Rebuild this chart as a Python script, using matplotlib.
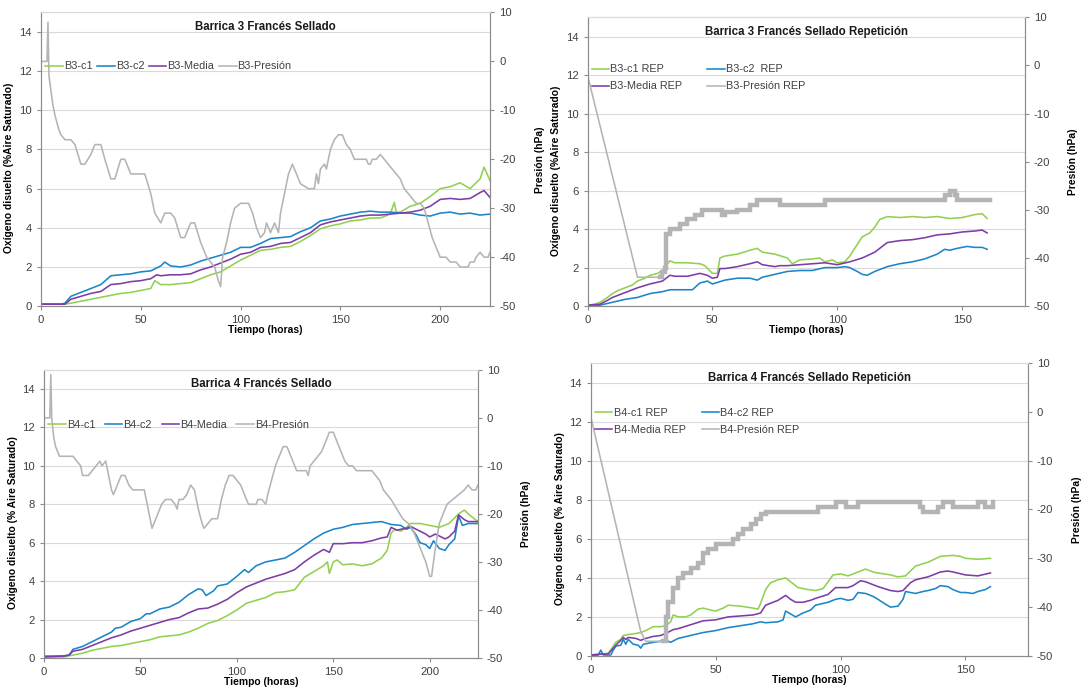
import numpy as np
import matplotlib
matplotlib.use("Agg")
import matplotlib.pyplot as plt

plt.rcParams['font.family'] = ['Liberation Sans', 'DejaVu Sans']
plt.rcParams['axes.unicode_minus'] = False

# ---- datos: (tiempo h, valor) ----
# Barrica 3 Francés Sellado
B3_C1 = [(0, 0.1), (12, 0.1), (15, 0.15), (20, 0.25), (25, 0.35), (30, 0.45), (35, 0.55), (40, 0.65),
         (45, 0.7), (50, 0.8), (55, 0.9), (57, 1.3), (60, 1.1), (65, 1.1), (70, 1.15), (75, 1.2),
         (80, 1.4), (85, 1.6), (90, 1.75), (95, 2.05), (100, 2.35), (105, 2.6), (110, 2.85), (115, 2.9),
         (120, 3.0), (125, 3.05), (130, 3.3), (135, 3.6), (140, 3.95), (145, 4.1), (150, 4.2),
         (155, 4.35), (160, 4.4), (165, 4.5), (170, 4.5), (175, 4.7), (177, 5.3), (178, 4.8),
         (180, 4.8), (185, 5.1), (190, 5.25), (195, 5.6), (200, 6.0), (205, 6.1), (210, 6.3),
         (215, 6.0), (220, 6.5), (222, 7.1), (225, 6.4)]
B3_C2 = [(0, 0.1), (10, 0.1), (12, 0.15), (15, 0.5), (20, 0.7), (25, 0.9), (30, 1.1), (35, 1.55),
         (40, 1.6), (45, 1.65), (50, 1.75), (55, 1.8), (60, 2.05), (62, 2.25), (65, 2.05), (70, 2.0),
         (75, 2.1), (80, 2.3), (85, 2.45), (90, 2.6), (95, 2.75), (100, 3.0), (105, 3.0), (110, 3.2),
         (115, 3.45), (120, 3.5), (125, 3.55), (130, 3.8), (135, 4.0), (140, 4.35), (145, 4.45),
         (150, 4.6), (155, 4.7), (160, 4.8), (165, 4.85), (170, 4.8), (175, 4.8), (180, 4.75),
         (185, 4.75), (190, 4.65), (195, 4.6), (200, 4.75), (205, 4.8), (210, 4.7), (215, 4.75),
         (220, 4.65), (225, 4.7)]
B3_MEDIA = [(0, 0.1), (12, 0.1), (15, 0.35), (20, 0.5), (25, 0.65), (30, 0.75), (35, 1.1), (40, 1.15),
            (45, 1.25), (50, 1.3), (55, 1.4), (58, 1.6), (60, 1.55), (65, 1.6), (70, 1.6), (75, 1.65),
            (80, 1.85), (85, 2.0), (90, 2.2), (95, 2.4), (100, 2.65), (105, 2.75), (110, 3.0),
            (115, 3.05), (120, 3.2), (125, 3.25), (130, 3.5), (135, 3.75), (140, 4.15), (145, 4.3),
            (150, 4.4), (155, 4.5), (160, 4.6), (165, 4.65), (170, 4.65), (175, 4.7), (180, 4.75),
            (185, 4.8), (190, 4.9), (195, 5.1), (200, 5.45), (205, 5.5), (210, 5.45), (215, 5.5),
            (220, 5.8), (222, 5.9), (225, 5.55)]
B3_PRES = [(0, 0), (3, 0), (3.5, 8), (4, -3), (5, -6), (6, -9), (7, -11), (8, -12.5), (9, -14),
           (10, -15), (12, -16), (15, -16), (17, -17), (20, -21), (22, -21), (25, -19), (27, -17),
           (30, -17), (32, -20), (35, -24), (37, -24), (40, -20), (42, -20), (45, -23), (52, -23),
           (55, -27), (57, -31), (60, -33), (62, -31), (65, -31), (67, -32), (70, -36), (72, -36),
           (75, -33), (77, -33), (80, -37), (83, -40), (85, -41), (87, -42), (89, -45), (90, -46),
           (91, -40), (93, -37), (95, -33), (97, -30), (100, -29), (104, -29), (106, -31), (108, -34),
           (110, -36), (112, -35), (113, -33), (115, -35), (117, -33), (119, -35), (120, -31),
           (122, -27), (124, -23), (126, -21), (128, -23), (130, -25), (134, -26), (137, -26),
           (138, -23), (139, -25), (140, -22), (142, -21), (143, -22), (145, -18), (147, -16),
           (149, -15), (151, -15), (153, -17), (155, -18), (157, -20), (163, -20), (164, -21),
           (165, -21), (166, -20), (168, -20), (170, -19), (172, -20), (174, -21), (176, -22),
           (178, -23), (180, -24), (182, -26), (184, -27), (186, -28), (188, -29), (190, -29),
           (192, -30), (194, -33), (196, -36), (198, -38), (200, -40), (203, -40), (205, -41),
           (208, -41), (210, -42), (214, -42), (215, -41), (217, -41), (218, -40), (220, -39),
           (222, -40), (224, -40), (225, -39)]

# Barrica 3 Francés Sellado Repetición
B3R_C1 = [(0, 0.05), (3, 0.1), (5, 0.2), (8, 0.45), (10, 0.65), (12, 0.8), (15, 0.95), (18, 1.1),
          (20, 1.3), (23, 1.45), (25, 1.6), (28, 1.7), (30, 1.85), (32, 2.2), (33, 2.35), (35, 2.25),
          (40, 2.25), (45, 2.2), (47, 2.1), (50, 1.7), (52, 1.7), (53, 2.5), (55, 2.6), (60, 2.7),
          (65, 2.9), (68, 3.0), (70, 2.8), (75, 2.7), (80, 2.5), (82, 2.2), (85, 2.4), (90, 2.45),
          (93, 2.5), (95, 2.3), (98, 2.4), (100, 2.25), (103, 2.3), (105, 2.6), (108, 3.2),
          (110, 3.6), (113, 3.8), (115, 4.1), (117, 4.5), (120, 4.65), (125, 4.6), (130, 4.65),
          (135, 4.6), (140, 4.65), (145, 4.55), (150, 4.6), (155, 4.75), (158, 4.8), (160, 4.55)]
B3R_C2 = [(0, 0.0), (5, 0.05), (10, 0.2), (15, 0.35), (20, 0.45), (25, 0.65), (30, 0.75), (33, 0.85),
          (42, 0.85), (45, 1.2), (48, 1.3), (50, 1.15), (55, 1.35), (60, 1.45), (65, 1.45), (68, 1.35),
          (70, 1.5), (75, 1.65), (80, 1.8), (85, 1.85), (90, 1.85), (95, 2.0), (100, 2.0), (103, 2.05),
          (105, 2.0), (108, 1.8), (110, 1.65), (112, 1.6), (115, 1.8), (120, 2.05), (125, 2.2),
          (130, 2.3), (135, 2.45), (140, 2.7), (143, 2.95), (145, 2.9), (148, 3.0), (150, 3.05),
          (152, 3.1), (155, 3.05), (158, 3.05), (160, 2.95)]
B3R_MEDIA = [(0, 0.05), (5, 0.1), (8, 0.3), (10, 0.45), (15, 0.7), (20, 0.95), (25, 1.15), (30, 1.3),
             (33, 1.6), (35, 1.55), (40, 1.55), (45, 1.7), (48, 1.6), (50, 1.45), (52, 1.5), (53, 1.95),
             (55, 1.95), (60, 2.05), (65, 2.2), (68, 2.3), (70, 2.15), (75, 2.05), (77, 2.1), (80, 2.1),
             (85, 2.15), (90, 2.2), (95, 2.25), (100, 2.15), (105, 2.3), (110, 2.5), (115, 2.8),
             (118, 3.1), (120, 3.3), (125, 3.4), (130, 3.45), (135, 3.55), (140, 3.7), (145, 3.75),
             (150, 3.85), (155, 3.9), (158, 3.95), (160, 3.8)]
B3R_PRES = [(0, -2), (20, -44), (29, -44), (30, -43), (31, -42), (31.5, -35), (33, -34), (37, -33),
            (40, -32), (43, -31), (46, -30), (52, -30), (54, -31), (55, -30.5), (60, -30), (65, -29),
            (68, -28), (75, -28), (77, -29), (92, -29), (95, -28), (142, -28), (143, -27), (145, -26),
            (147, -27), (148, -28), (161, -28)]

# Barrica 4 Francés Sellado
B4_C1 = [(0, 0.05), (10, 0.05), (15, 0.15), (20, 0.25), (25, 0.4), (30, 0.5), (35, 0.6), (40, 0.65),
         (45, 0.75), (50, 0.85), (55, 0.95), (60, 1.1), (65, 1.15), (70, 1.2), (75, 1.35), (80, 1.55),
         (85, 1.8), (90, 1.95), (95, 2.2), (100, 2.5), (105, 2.85), (110, 3.0), (115, 3.15), (120, 3.4),
         (125, 3.45), (130, 3.55), (135, 4.2), (140, 4.5), (145, 4.8), (147, 5.0), (148, 4.4),
         (150, 5.0), (152, 5.1), (155, 4.85), (160, 4.9), (165, 4.8), (170, 4.9), (175, 5.2),
         (178, 5.6), (180, 6.5), (182, 6.7), (185, 6.6), (188, 6.8), (190, 7.0), (195, 7.0),
         (200, 6.9), (205, 6.8), (210, 7.0), (215, 7.5), (218, 7.7), (220, 7.5), (225, 7.1)]
B4_C2 = [(0, 0.1), (10, 0.1), (13, 0.15), (15, 0.45), (20, 0.6), (25, 0.85), (30, 1.1), (35, 1.35),
         (37, 1.55), (40, 1.6), (45, 1.9), (50, 2.05), (53, 2.3), (55, 2.3), (60, 2.55), (65, 2.65),
         (70, 2.9), (75, 3.3), (80, 3.6), (82, 3.55), (84, 3.25), (88, 3.5), (90, 3.75), (95, 3.85),
         (100, 4.25), (104, 4.6), (106, 4.45), (110, 4.8), (115, 5.0), (120, 5.1), (125, 5.2),
         (130, 5.5), (135, 5.85), (140, 6.2), (145, 6.5), (150, 6.7), (155, 6.8), (160, 6.95),
         (165, 7.0), (170, 7.05), (175, 7.1), (180, 6.95), (185, 6.9), (188, 6.7), (190, 6.8),
         (193, 6.4), (195, 6.0), (198, 5.9), (200, 5.7), (202, 6.1), (205, 5.7), (208, 5.6),
         (210, 5.9), (213, 6.2), (215, 7.4), (217, 6.9), (220, 7.0), (225, 7.0)]
B4_MEDIA = [(0, 0.05), (10, 0.1), (13, 0.15), (15, 0.35), (20, 0.45), (25, 0.65), (30, 0.85),
            (35, 1.05), (40, 1.2), (45, 1.4), (50, 1.55), (55, 1.7), (60, 1.85), (65, 2.0), (70, 2.1),
            (75, 2.35), (80, 2.55), (85, 2.6), (90, 2.8), (95, 3.05), (100, 3.4), (105, 3.7), (110, 3.9),
            (115, 4.1), (120, 4.25), (125, 4.4), (130, 4.6), (135, 5.0), (140, 5.35), (145, 5.65),
            (148, 5.5), (150, 5.95), (155, 5.95), (160, 6.0), (165, 6.0), (170, 6.1), (175, 6.25),
            (178, 6.3), (180, 6.8), (183, 6.65), (185, 6.7), (188, 6.75), (190, 6.85), (193, 6.7),
            (195, 6.6), (198, 6.45), (200, 6.3), (203, 6.45), (205, 6.35), (208, 6.2), (210, 6.3),
            (213, 6.6), (215, 7.45), (218, 7.2), (220, 7.1), (225, 7.1)]
B4_PRES = [(0, 0), (3, 0), (3.5, 9), (4, 0), (5, -4), (6, -6), (7, -7), (8, -8), (15, -8), (17, -9),
           (19, -10), (20, -12), (23, -12), (25, -11), (27, -10), (29, -9), (30, -10), (32, -9),
           (34, -13), (35, -15), (36, -16), (38, -14), (40, -12), (42, -12), (44, -14), (46, -15),
           (52, -15), (53, -17), (55, -21), (56, -23), (57, -22), (59, -20), (61, -18), (63, -17),
           (66, -17), (68, -18), (69, -19), (70, -17), (72, -17), (74, -16), (76, -14), (78, -15),
           (80, -19), (82, -22), (83, -23), (85, -22), (87, -21), (90, -21), (92, -17), (94, -14),
           (96, -12), (98, -12), (100, -13), (102, -14), (104, -16), (106, -18), (110, -18),
           (111, -17), (113, -17), (115, -18), (116, -16), (118, -13), (120, -10), (122, -8),
           (124, -6), (126, -6), (127, -7), (129, -9), (131, -11), (136, -11), (137, -12), (138, -10),
           (140, -9), (142, -8), (144, -7), (146, -5), (148, -3), (150, -3), (152, -5), (154, -7),
           (156, -9), (158, -10), (160, -10), (162, -11), (170, -11), (172, -12), (174, -13),
           (176, -15), (178, -16), (180, -17), (183, -19), (186, -21), (189, -22), (192, -24),
           (195, -27), (198, -30), (200, -33), (201, -33), (203, -27), (205, -22), (207, -20),
           (209, -18), (212, -17), (215, -16), (218, -15), (220, -14), (222, -15), (224, -15),
           (225, -14)]

# Barrica 4 Francés Sellado Repetición
B4R_C1 = [(0, 0.05), (3, 0.1), (5, 0.1), (7, 0.15), (9, 0.5), (10, 0.7), (12, 0.85), (13, 1.05),
          (15, 1.1), (18, 1.15), (20, 1.2), (22, 1.3), (25, 1.5), (28, 1.5), (30, 1.55), (32, 1.75),
          (33, 2.1), (35, 2.0), (38, 2.0), (40, 2.1), (43, 2.4), (45, 2.45), (48, 2.35), (50, 2.3),
          (53, 2.45), (55, 2.6), (60, 2.55), (65, 2.45), (67, 2.4), (68, 2.7), (70, 3.4), (72, 3.75),
          (75, 3.9), (78, 4.0), (80, 3.8), (83, 3.5), (87, 3.4), (90, 3.35), (93, 3.45), (95, 3.8),
          (97, 4.15), (100, 4.2), (103, 4.1), (105, 4.2), (108, 4.35), (110, 4.45), (113, 4.3),
          (115, 4.25), (120, 4.15), (123, 4.05), (126, 4.1), (128, 4.35), (130, 4.6), (135, 4.8),
          (140, 5.1), (145, 5.15), (148, 5.1), (150, 5.0), (155, 4.95), (160, 5.0)]
B4R_C2 = [(0, 0.0), (3, 0.05), (4, 0.3), (5, 0.05), (8, 0.05), (9, 0.3), (10, 0.5), (12, 0.55),
          (13, 0.85), (14, 0.6), (15, 0.85), (17, 0.6), (19, 0.55), (20, 0.4), (21, 0.6), (25, 0.7),
          (28, 0.75), (30, 0.8), (32, 0.7), (35, 0.9), (40, 1.05), (45, 1.2), (50, 1.3), (55, 1.45),
          (60, 1.55), (65, 1.65), (68, 1.75), (70, 1.7), (75, 1.75), (77, 1.85), (78, 2.3), (80, 2.15),
          (82, 2.0), (85, 2.2), (88, 2.35), (90, 2.6), (95, 2.75), (98, 2.9), (100, 2.95), (103, 2.85),
          (105, 2.9), (107, 3.25), (110, 3.2), (113, 3.05), (115, 2.9), (118, 2.65), (120, 2.5),
          (123, 2.55), (125, 2.9), (126, 3.3), (128, 3.25), (130, 3.2), (133, 3.3), (135, 3.35),
          (138, 3.45), (140, 3.6), (143, 3.55), (145, 3.4), (148, 3.25), (150, 3.25), (153, 3.2),
          (155, 3.3), (158, 3.4), (160, 3.55)]
B4R_MEDIA = [(0, 0.05), (5, 0.1), (7, 0.1), (9, 0.4), (10, 0.55), (12, 0.8), (13, 0.95), (14, 0.85),
             (15, 0.95), (18, 0.9), (20, 0.8), (22, 0.9), (25, 1.0), (28, 1.05), (30, 1.15), (33, 1.35),
             (35, 1.4), (40, 1.6), (45, 1.8), (50, 1.85), (55, 2.0), (60, 2.05), (65, 2.1), (68, 2.2),
             (70, 2.6), (75, 2.85), (78, 3.1), (80, 2.9), (82, 2.75), (85, 2.75), (88, 2.85), (90, 2.95),
             (95, 3.15), (98, 3.5), (103, 3.5), (105, 3.6), (108, 3.85), (110, 3.8), (115, 3.55),
             (120, 3.35), (123, 3.3), (125, 3.35), (128, 3.75), (130, 3.9), (135, 4.05), (140, 4.3),
             (143, 4.35), (145, 4.3), (150, 4.15), (155, 4.1), (160, 4.25)]
B4R_PRES = [(0, -1), (20, -45), (22, -47), (29, -47), (30, -42), (31, -39), (33, -36), (35, -34),
            (37, -33), (40, -32), (43, -31), (45, -29), (47, -28), (50, -27), (55, -27), (57, -26),
            (59, -25), (61, -24), (64, -23), (66, -22), (68, -21), (70, -20.5), (90, -20.5),
            (91, -19.5), (97, -19.5), (98, -18.5), (101, -18.5), (102, -19.5), (106, -19.5),
            (107, -18.5), (130, -18.5), (132, -19.5), (133, -20.5), (138, -20.5), (139, -19.5),
            (141, -18.5), (144, -18.5), (145, -19.5), (154, -19.5), (155, -18.5), (157, -18.5),
            (158, -19.5), (160, -19.5), (161, -18.5)]

GREEN = '#92D050'
BLUE = '#1A86C8'
PURPLE = '#7D3CA6'
GRAY = '#B4B4B4'
GRID = '#DADADA'
AXC = '#8C8C8C'
TXT = '#404040'


def xy(series):
    a = np.array(series, dtype=float)
    return a[:, 0], a[:, 1]


def panel(pos, title, series, labels, xmax, xticks, ylab, ncol, rep, leg_y, colsp):
    ax = fig.add_axes(pos)
    ax2 = ax.twinx()
    hs = []
    for s, c in zip(series[:3], [GREEN, BLUE, PURPLE]):
        t, v = xy(s)
        h, = ax.plot(t, v, color=c, lw=1.15)
        hs.append(h)
    t, v = xy(series[3])
    if rep:
        # bajada fina y luego meseta escalonada que oscila entre dos valores (trazo grueso)
        cut = np.argmax(t >= 29)
        ax2.plot(t[:cut + 1], v[:cut + 1], color=GRAY, lw=1.15)
        ax2.plot(t[cut:], v[cut:], color=GRAY, lw=3.2, drawstyle='steps-post',
                 solid_joinstyle='miter')
        h, = ax2.plot([], [], color=GRAY, lw=1.15)
    else:
        h, = ax2.plot(t, v, color=GRAY, lw=1.15)
    hs.append(h)

    ax.set_xlim(0, xmax)
    ax.set_ylim(0, 15)
    ax2.set_ylim(-50, 10)
    ax.set_xticks(xticks)
    ax.set_yticks(range(0, 15, 2))
    ax2.set_yticks(range(-50, 11, 10))
    for y in range(2, 15, 2):
        ax.axhline(y, color=GRID, lw=0.8, zorder=0)
    for a in (ax, ax2):
        for side in ('left', 'right', 'bottom'):
            a.spines[side].set_color(AXC)
        a.spines['top'].set_color(GRID)
        a.tick_params(colors=AXC, labelcolor=TXT, labelsize=8.1, length=3, width=0.8, direction='out')
    ax.set_xlabel('Tiempo (horas)', fontsize=7.4, fontweight='bold', labelpad=0)
    ax.set_ylabel(ylab, fontsize=7.4, fontweight='bold')
    ax2.set_ylabel('Presión (hPa)', fontsize=7.4, fontweight='bold')
    ax.yaxis.set_label_coords(-0.06, 0.47)
    ax2.yaxis.set_label_coords(1.1, 0.5)
    ax.text(0.5, 0.95, title, transform=ax.transAxes, ha='center', va='center',
            fontsize=8.3, fontweight='bold', color='#1a1a1a')
    order = [0, 2, 1, 3] if ncol == 2 else [0, 1, 2, 3]
    ax2.legend([hs[i] for i in order], [labels[i] for i in order], ncol=ncol, frameon=False,
               loc='center left', bbox_to_anchor=(0.0, leg_y), fontsize=7.8, handlelength=1.6,
               handletextpad=0.1, columnspacing=colsp, labelspacing=0.65, borderaxespad=0,
               labelcolor=TXT)


fig = plt.figure(figsize=(10.9, 6.91), dpi=100)

panel([0.0376, 0.557, 0.412, 0.425], 'Barrica 3 Francés Sellado',
      [B3_C1, B3_C2, B3_MEDIA, B3_PRES], ['B3-c1', 'B3-c2', 'B3-Media', 'B3-Presión'],
      225, [0, 50, 100, 150, 200], 'Oxígeno disuelto (%Aire Saturado)', 4, False, 0.816, 0.45)
panel([0.539, 0.557, 0.401, 0.418], 'Barrica 3 Francés Sellado Repetición',
      [B3R_C1, B3R_C2, B3R_MEDIA, B3R_PRES],
      ['B3-c1 REP', 'B3-c2  REP', 'B3-Media REP', 'B3-Presión REP'],
      175, [0, 50, 100, 150], 'Oxígeno disuelto (%Aire Saturado)', 2, True, 0.79, 2.3)
panel([0.0404, 0.0478, 0.398, 0.417], 'Barrica 4 Francés Sellado',
      [B4_C1, B4_C2, B4_MEDIA, B4_PRES], ['B4-c1', 'B4-c2', 'B4-Media', 'B4-Presión'],
      225, [0, 50, 100, 150, 200], 'Oxígeno disuelto (% Aire Saturado)', 4, False, 0.81, 0.9)
panel([0.542, 0.0507, 0.401, 0.424], 'Barrica 4 Francés Sellado Repetición',
      [B4R_C1, B4R_C2, B4R_MEDIA, B4R_PRES],
      ['B4-c1 REP', 'B4-c2 REP', 'B4-Media REP', 'B4-Presión REP'],
      175, [0, 50, 100, 150], 'Oxígeno disuelto (% Aire Saturado)', 2, True, 0.80, 1.5)

fig.savefig('out.png', dpi=100)
